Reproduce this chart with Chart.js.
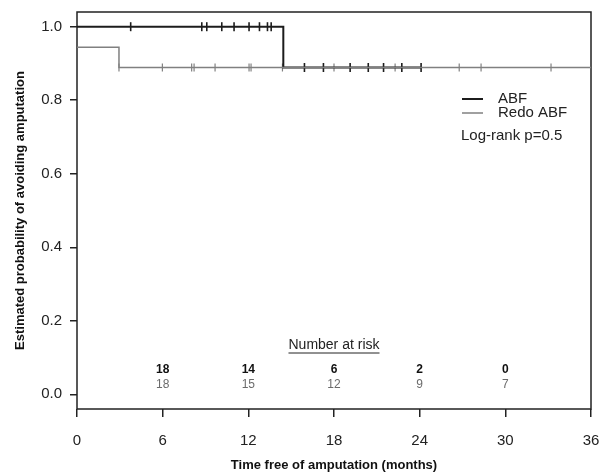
<!DOCTYPE html>
<html>
<head>
<meta charset="utf-8">
<script src="https://cdn.jsdelivr.net/npm/chart.js@4.4.1/dist/chart.umd.min.js"></script>
<style>
  html, body { margin: 0; padding: 0; background: #fff; }
  #wrap { width: 603px; height: 473px; }
</style>
</head>
<body>
<div id="wrap"><canvas id="kmChart" width="603" height="473"></canvas></div>
<script>
// axis ticks
const timeTicks = [0, 6, 12, 18, 24, 30, 36];
const probTicks = [0, 0.2, 0.4, 0.6, 0.8, 1.0];

// survival steps (time, probability)
const abfTimes = [0, 14.45, 24.1];
const abfSurv = [1.0, 0.889, 0.889];
const redoTimes = [0, 2.94, 36];
const redoSurv = [0.944, 0.889, 0.889];

// censored observations (months)
const abfCensor = [3.76, 8.74, 9.09, 10.14, 11.0, 12.05, 12.78, 13.34, 13.6, 15.93, 17.26, 19.13, 20.4, 21.47, 22.75, 24.1];
const redoCensor = [2.94, 5.98, 8.03, 8.2, 9.67, 12.05, 12.19, 14.39, 18.0, 22.28, 26.77, 28.3, 33.2];

// number at risk table
const riskTimes = [6, 12, 18, 24, 30];
const abfRisk = [18, 14, 6, 2, 0];
const redoRisk = [18, 15, 12, 9, 7];

const seriesNames = ["ABF", "Redo ABF"];
const pValueText = "Log-rank p=0.5";

const BLACK = "#1c1c1c";
const GREY = "#808080";
const FONT = "'Liberation Sans', Arial, sans-serif";

function survAt(times, surv, t) {
  let v = surv[0];
  for (let i = 0; i < times.length; i++) {
    if (times[i] <= t) v = surv[i];
  }
  return v;
}

const toPoints = (xs, ys) => xs.map((x, i) => ({ x: x, y: ys[i] }));
const censorPoints = (cs, times, surv) => cs.map(t => ({ x: t, y: survAt(times, surv, t) }));

function noPad(s) {
  s.paddingLeft = 0; s.paddingRight = 0; s.paddingTop = 0; s.paddingBottom = 0;
}

// box, legend and risk table
const extrasPlugin = {
  id: "extras",
  beforeDatasetsDraw(chart) {
    const { ctx, chartArea: a } = chart;
    ctx.save();
    ctx.strokeStyle = "#222";
    ctx.lineWidth = 1.5;
    ctx.strokeRect(a.left, a.top, a.right - a.left, a.bottom - a.top);
    ctx.restore();
  },
  afterDatasetsDraw(chart) {
    const { ctx } = chart;
    const xs = chart.scales.x;
    ctx.save();

    // legend
    ctx.lineWidth = 2;
    ctx.strokeStyle = BLACK;
    ctx.beginPath(); ctx.moveTo(462, 99); ctx.lineTo(483, 99); ctx.stroke();
    ctx.lineWidth = 1.5;
    ctx.strokeStyle = GREY;
    ctx.beginPath(); ctx.moveTo(462, 113); ctx.lineTo(483, 113); ctx.stroke();
    ctx.fillStyle = "#222";
    ctx.font = "15px " + FONT;
    ctx.textAlign = "left";
    ctx.textBaseline = "middle";
    ctx.fillText(seriesNames[0], 498, 99);
    ctx.fillText(seriesNames[1], 498, 113);
    ctx.fillText(pValueText, 461, 136);

    // number at risk
    ctx.textAlign = "center";
    ctx.font = "14px " + FONT;
    ctx.fillStyle = "#222";
    const cx = xs.getPixelForValue(18);
    ctx.fillText("Number at risk", cx, 345);
    const w = ctx.measureText("Number at risk").width;
    ctx.lineWidth = 1;
    ctx.strokeStyle = "#222";
    ctx.beginPath(); ctx.moveTo(cx - w / 2, 353); ctx.lineTo(cx + w / 2, 353); ctx.stroke();

    riskTimes.forEach((t, i) => {
      const px = xs.getPixelForValue(t);
      ctx.font = "bold 12px " + FONT;
      ctx.fillStyle = "#111";
      ctx.fillText(String(abfRisk[i]), px, 370);
      ctx.font = "12px " + FONT;
      ctx.fillStyle = "#6b6b6b";
      ctx.fillText(String(redoRisk[i]), px, 385);
    });
    ctx.restore();
  }
};

new Chart(document.getElementById("kmChart"), {
  type: "scatter",
  data: {
    datasets: [
      {
        label: seriesNames[1],
        data: toPoints(redoTimes, redoSurv),
        showLine: true,
        stepped: "before",
        borderColor: GREY,
        borderWidth: 1.5,
        pointRadius: 0
      },
      {
        label: seriesNames[0],
        data: toPoints(abfTimes, abfSurv),
        showLine: true,
        stepped: "before",
        borderColor: BLACK,
        borderWidth: 2,
        pointRadius: 0
      },
      {
        label: "Redo censored",
        data: censorPoints(redoCensor, redoTimes, redoSurv),
        showLine: false,
        pointStyle: "line",
        rotation: 90,
        pointRadius: 4,
        borderColor: GREY,
        borderWidth: 1.2
      },
      {
        label: "ABF censored",
        data: censorPoints(abfCensor, abfTimes, abfSurv),
        showLine: false,
        pointStyle: "line",
        rotation: 90,
        pointRadius: 4.5,
        borderColor: BLACK,
        borderWidth: 1.6
      }
    ]
  },
  options: {
    responsive: false,
    animation: false,
    layout: { padding: { top: 12, right: 12, left: 0, bottom: 0 } },
    plugins: {
      legend: { display: false },
      tooltip: { enabled: false }
    },
    scales: {
      x: {
        type: "linear",
        min: 0,
        max: 36,
        afterBuildTicks: s => { s.ticks = timeTicks.map(v => ({ value: v })); },
        afterFit: s => { s.height = 64; noPad(s); },
        grid: { drawOnChartArea: false, drawTicks: true, tickLength: 8, color: "#222", lineWidth: 1.5 },
        border: { display: false },
        ticks: { color: "#222", font: { family: FONT, size: 15 }, padding: 15, maxRotation: 0 },
        title: {
          display: true,
          text: "Time free of amputation (months)",
          color: "#111",
          font: { family: FONT, size: 13, weight: "bold" },
          padding: { top: 0, bottom: 0 }
        }
      },
      y: {
        type: "linear",
        min: -0.04,
        max: 1.04,
        afterBuildTicks: s => { s.ticks = probTicks.map(v => ({ value: v })); },
        afterFit: s => { s.width = 77; noPad(s); },
        grid: { drawOnChartArea: false, drawTicks: true, tickLength: 7, color: "#222", lineWidth: 1.5 },
        border: { display: false },
        ticks: {
          color: "#222",
          font: { family: FONT, size: 15 },
          padding: 8,
          callback: v => v.toFixed(1)
        },
        title: {
          display: true,
          text: "Estimated probability of avoiding amputation",
          color: "#111",
          font: { family: FONT, size: 13, weight: "bold" },
          padding: { top: 13, bottom: 0 }
        }
      }
    }
  },
  plugins: [extrasPlugin]
});
</script>
</body>
</html>
